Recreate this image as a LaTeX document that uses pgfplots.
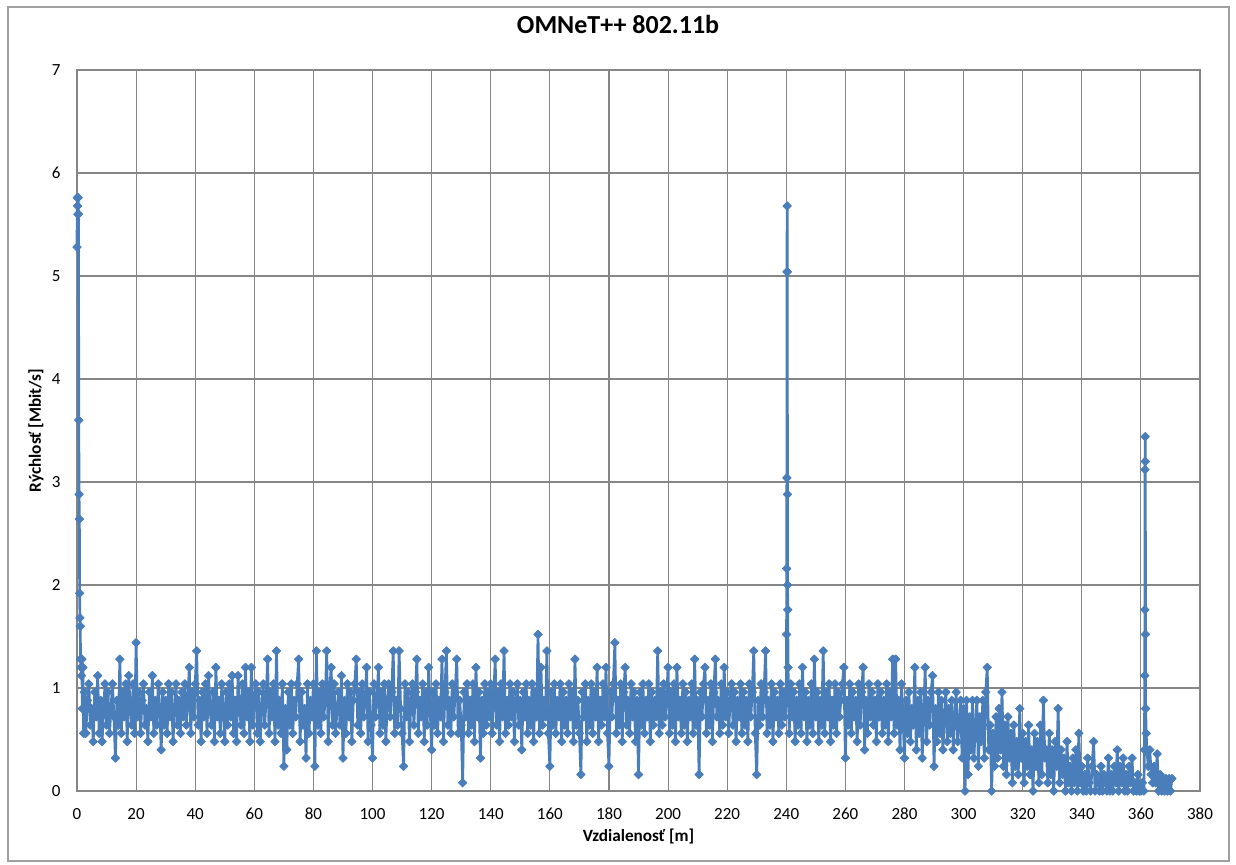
\documentclass[border=0pt]{standalone}
\usepackage{fontspec}
\setmainfont{Carlito}
\usepackage{pgfplots}
\pgfplotsset{compat=1.18}

\definecolor{serie}{RGB}{74,126,187}
\definecolor{mriezka}{RGB}{134,134,134}
\definecolor{ramik}{RGB}{160,160,160}

\begin{document}
\begin{tikzpicture}
\useasboundingbox (-38.5pt,-36.5pt) rectangle (579.5pt,395.5pt);
\begin{axis}[
    scale only axis,
    width=561.5pt,
    height=360.5pt,
    xmin=0, xmax=380,
    ymin=0, ymax=7,
    xtick={0,20,...,380},
    ytick={0,1,...,7},
    major tick length=0pt,
    grid=major,
    grid style={mriezka, line width=0.55pt},
    axis line style={mriezka, line width=0.55pt},
    clip=false,
    /pgf/number format/assume math mode=true,
    ticklabel style={font=\fontsize{8.5}{10}\selectfont, text=black},
    xticklabel style={anchor=base, yshift=-14pt},
    yticklabel style={anchor=east, inner sep=0pt, xshift=-8pt},
    title={OMNeT++ 802.11b},
    title style={at={(axis description cs:0.4818,1.0333)}, anchor=base,
                 font=\bfseries\fontsize{13}{15}\selectfont},
    xlabel={Vzdialenosť [m]},
    xlabel style={at={(axis description cs:0.5,-0.0694)}, anchor=base,
                  font=\bfseries\fontsize{8.6}{10}\selectfont},
    ylabel={Rýchlosť [Mbit/s]},
    ylabel style={at={(axis description cs:-0.0321,0.5)}, anchor=base,
                  font=\bfseries\fontsize{8.6}{10}\selectfont},
]

% OMNeT++ 802.11b, rychlost vs. vzdialenost
\addplot[color=serie, line width=1.35pt, line join=round, mark=square*, mark size=1.5pt,
         mark options={rotate=45, solid, line width=0.4pt, fill=serie, draw=serie}]
coordinates {
(0,5.28)(0.1,5.76)(0.2,5.68)(0.3,5.6)(0.4,5.76)(0.5,5.6)(0.6,3.6)(0.7,2.88)(0.8,2.64)(0.9,1.92)(1.0,1.68)(1.1,1.6)(1.2,1.28)(1.35,1.2)(1.5,1.12)(1.65,1.28)(1.8,0.8)(2.0,1.2)(2.25,0.56)
(2.5,0.96)(3,0.56)(3.5,0.88)(4,1.04)(4.5,0.64)(5,0.8)(5.5,0.48)(6,0.96)(6.5,0.72)(7,1.12)(7.5,0.56)(8,0.88)(8.5,0.48)(9,0.8)(9.5,1.04)
(10,0.64)(10.5,0.96)(11,0.56)(11.5,0.8)(12,1.04)(12.5,0.72)(13,0.32)(13.5,0.88)(14,0.64)(14.5,1.28)(15,0.56)(15.5,0.96)(16,0.72)(16.5,1.04)(17,0.48)(17.5,1.12)(18,0.8)(18.5,0.64)(19,1.04)(19.5,0.56)
(20,1.44)(20.5,0.72)(21,0.96)(21.5,0.56)(22,0.88)(22.5,1.04)(23,0.64)(23.5,0.8)(24,0.48)(24.5,0.96)(25,0.72)(25.5,1.12)(26,0.56)(26.5,0.88)(27,0.64)(27.5,1.04)(28,0.8)(28.5,0.4)(29,0.96)(29.5,0.64)
(30,0.88)(30.5,0.56)(31,1.04)(31.5,0.72)(32,0.96)(32.5,0.48)(33,0.8)(33.5,1.04)(34,0.64)(34.5,0.88)(35,0.56)(35.5,0.96)(36,0.72)(36.5,1.04)(37,0.64)(37.5,0.88)(38,1.2)(38.5,0.56)(39,0.96)(39.5,0.72)
(40,1.04)(40.5,1.36)(41,0.64)(41.5,0.88)(42,0.48)(42.5,0.96)(43,0.72)(43.5,1.04)(44,0.56)(44.5,1.12)(45,0.8)(45.5,0.64)(46,0.96)(46.5,0.48)(47,1.2)(47.5,0.72)(48,0.88)(48.5,0.56)(49,1.04)(49.5,0.8)
(50,0.48)(50.5,0.96)(51,0.64)(51.5,1.04)(52,0.72)(52.5,1.12)(53,0.56)(53.5,0.88)(54,0.48)(54.5,1.12)(55,0.8)(55.5,0.64)(56,1.04)(56.5,0.56)(57,1.2)(57.5,0.72)(58,0.96)(58.5,0.48)(59,1.2)(59.5,0.64)
(60,0.88)(60.5,1.04)(61,0.56)(61.5,0.96)(62,0.48)(62.5,0.8)(63,1.04)(63.5,0.64)(64,0.88)(64.5,1.28)(65,0.56)(65.5,0.96)(66,0.72)(66.5,1.04)(67,0.48)(67.5,1.36)(68,0.64)(68.5,0.88)(69,0.56)(69.5,1.04)
(70,0.24)(70.5,0.8)(71,0.4)(71.5,0.96)(72,0.64)(72.5,1.04)(73,0.56)(73.5,0.88)(74,0.72)(74.5,1.04)(75,1.28)(75.5,0.48)(76,0.96)(76.5,0.64)(77,0.8)(77.5,0.32)(78,1.04)(78.5,0.56)(79,0.88)(79.5,0.72)
(80,1.04)(80.5,0.24)(81,1.36)(81.5,0.64)(82,0.96)(82.5,0.56)(83,1.04)(83.5,0.72)(84,0.88)(84.5,1.36)(85,0.48)(85.5,0.96)(86,1.2)(86.5,0.64)(87,1.04)(87.5,0.56)(88,0.8)(88.5,0.96)(89,0.64)(89.5,1.12)
(90,0.32)(90.5,0.88)(91,0.56)(91.5,1.04)(92,0.72)(92.5,0.96)(93,0.48)(93.5,0.88)(94,1.04)(94.5,1.28)(95,0.64)(95.5,0.96)(96,0.56)(96.5,1.04)(97,0.72)(97.5,0.88)(98,1.2)(98.5,0.48)(99,0.96)(99.5,0.64)
(100,0.32)(100.5,1.04)(101,0.72)(101.5,0.88)(102,1.2)(102.5,0.56)(103,0.96)(103.5,0.64)(104,1.04)(104.5,0.48)(105,0.88)(105.5,1.04)(106,0.72)(106.5,0.96)(107,1.36)(107.5,0.56)(108,0.88)(108.5,0.64)(109,1.36)(109.5,0.8)
(110,0.56)(110.5,0.24)(111,1.04)(111.5,0.72)(112,0.96)(112.5,0.48)(113,0.88)(113.5,1.04)(114,0.64)(114.5,0.96)(115,1.28)(115.5,0.56)(116,0.88)(116.5,0.72)(117,1.04)(117.5,0.48)(118,0.96)(118.5,0.64)(119,1.2)(119.5,0.8)
(120,0.4)(120.5,0.96)(121,0.64)(121.5,1.04)(122,0.56)(122.5,0.88)(123,0.72)(123.5,1.28)(124,0.48)(124.5,0.96)(125,1.36)(125.5,0.64)(126,0.88)(126.5,0.56)(127,1.04)(127.5,0.72)(128,0.96)(128.5,1.28)(129,0.56)(129.5,0.88)
(130,0.64)(130.5,0.08)(131,0.96)(131.5,0.72)(132,1.04)(132.5,0.56)(133,0.88)(133.5,0.64)(134,1.04)(134.5,0.48)(135,1.2)(135.5,0.72)(136,0.96)(136.5,0.32)(137,0.88)(137.5,0.56)(138,1.04)(138.5,0.64)(139,0.96)(139.5,0.72)
(140,1.04)(140.5,0.56)(141,0.88)(141.5,1.28)(142,0.64)(142.5,0.96)(143,0.48)(143.5,1.04)(144,0.72)(144.5,1.36)(145,0.56)(145.5,0.88)(146,0.64)(146.5,1.04)(147,0.72)(147.5,0.96)(148,0.48)(148.5,0.88)(149,1.04)(149.5,0.64)
(150,0.88)(150.5,0.4)(151,0.96)(151.5,0.72)(152,1.04)(152.5,0.56)(153,0.88)(153.5,0.64)(154,1.04)(154.5,0.48)(155,0.96)(155.5,0.72)(156,1.52)(156.5,0.56)(157,1.2)(157.5,0.64)(158,0.88)(158.5,0.72)(159,1.36)(159.5,0.56)
(160,0.24)(160.5,0.96)(161,0.64)(161.5,1.04)(162,0.56)(162.5,0.88)(163,0.72)(163.5,1.04)(164,0.48)(164.5,0.96)(165,0.64)(165.5,0.88)(166,0.56)(166.5,1.04)(167,0.72)(167.5,0.96)(168,0.48)(168.5,1.28)(169,0.64)(169.5,0.88)
(170,0.56)(170.5,0.16)(171,0.96)(171.5,0.72)(172,1.04)(172.5,0.48)(173,0.88)(173.5,0.64)(174,1.04)(174.5,0.56)(175,0.96)(175.5,0.72)(176,1.2)(176.5,0.48)(177,0.88)(177.5,0.64)(178,1.04)(178.5,0.72)(179,1.2)(179.5,0.56)
(180,0.24)(180.5,0.96)(181,0.72)(181.5,1.04)(182,1.44)(182.5,0.56)(183,0.88)(183.5,0.64)(184,1.04)(184.5,0.48)(185,0.96)(185.5,1.2)(186,0.64)(186.5,0.88)(187,0.56)(187.5,1.04)(188,0.72)(188.5,0.96)(189,0.48)(189.5,0.88)
(190,0.16)(190.5,0.96)(191,0.64)(191.5,1.04)(192,0.56)(192.5,0.88)(193,0.72)(193.5,1.04)(194,0.48)(194.5,0.96)(195,0.64)(195.5,0.88)(196,0.72)(196.5,1.36)(197,0.56)(197.5,0.96)(198,0.64)(198.5,1.04)(199,0.72)(199.5,0.88)
(200,1.2)(200.5,0.56)(201,0.96)(201.5,0.64)(202,1.04)(202.5,0.48)(203,1.2)(203.5,0.72)(204,0.88)(204.5,0.56)(205,1.04)(205.5,0.64)(206,0.96)(206.5,0.48)(207,0.88)(207.5,0.72)(208,1.04)(208.5,0.56)(209,1.28)(209.5,0.64)
(210,0.88)(210.5,0.16)(211,0.96)(211.5,0.72)(212,1.04)(212.5,1.2)(213,0.56)(213.5,0.88)(214,0.64)(214.5,1.04)(215,0.48)(215.5,0.96)(216,1.28)(216.5,0.72)(217,0.88)(217.5,0.56)(218,1.04)(218.5,0.64)(219,1.2)(219.5,0.72)
(220,0.96)(220.5,0.56)(221,0.88)(221.5,1.04)(222,0.64)(222.5,0.96)(223,0.48)(223.5,0.88)(224,0.72)(224.5,1.04)(225,0.56)(225.5,0.96)(226,0.64)(226.5,0.88)(227,0.48)(227.5,1.04)(228,0.72)(228.5,0.96)(229,1.36)(229.5,0.56)
(230,0.16)(230.5,0.88)(231,0.64)(231.5,1.04)(232,0.72)(232.5,0.96)(233,1.36)(233.5,0.56)(234,0.88)(234.5,0.64)(235,1.04)(235.5,0.48)(236,0.96)(236.5,0.72)(237,0.88)(237.5,0.56)(238,1.04)(238.5,0.64)(239,0.96)(239.5,0.72)
(240,0.88)(240.1,1.52)(240.15,2.16)(240.2,3.04)(240.25,5.04)(240.3,5.68)(240.35,5.04)(240.4,2.88)(240.45,2.0)(240.5,1.76)(240.6,1.2)(240.75,0.96)
(241,0.56)(241.5,1.04)(242,0.72)(242.5,0.96)(243,0.48)(243.5,0.88)(244,0.64)(244.5,1.04)(245,0.56)(245.5,1.2)(246,0.72)(246.5,0.96)(247,0.48)(247.5,0.88)(248,0.64)(248.5,1.04)(249,0.56)(249.5,1.28)
(250,0.72)(250.5,0.96)(251,0.48)(251.5,0.88)(252,0.64)(252.5,1.36)(253,0.56)(253.5,0.96)(254,0.72)(254.5,1.04)(255,0.48)(255.5,0.88)(256,0.64)(256.5,1.04)(257,0.56)(257.5,0.96)(258,0.72)(258.5,0.88)(259,1.04)(259.5,1.2)
(260,0.32)(260.5,0.88)(261,0.64)(261.5,1.04)(262,0.56)(262.5,0.96)(263,0.72)(263.5,0.88)(264,0.48)(264.5,1.04)(265,0.64)(265.5,0.96)(266,1.2)(266.5,0.4)(267,0.88)(267.5,0.56)(268,1.04)(268.5,0.72)(269,0.96)(269.5,0.64)
(270,0.88)(270.5,0.48)(271,1.04)(271.5,0.72)(272,0.96)(272.5,0.56)(273,0.88)(273.5,0.64)(274,1.04)(274.5,0.48)(275,0.96)(275.5,0.72)(276,1.28)(276.5,0.56)(277,1.28)(277.5,0.64)(278,0.88)(278.5,0.4)(279,1.04)(279.5,0.72)
(280,0.32)(280.5,0.88)(281,0.56)(281.5,0.96)(282,0.48)(282.5,0.8)(283,0.64)(283.5,1.2)(284,0.4)(284.5,0.88)(285,0.56)(285.5,0.96)(286,0.32)(286.5,0.72)(287,1.2)(287.5,0.48)(288,0.88)(288.5,0.64)(289,0.96)(289.5,1.12)
(290,0.24)(290.5,0.8)(291,0.48)(291.5,0.96)(292,0.56)(292.5,0.88)(293,0.4)(293.5,0.72)(294,0.96)(294.5,0.48)(295,0.8)(295.5,0.56)(296,0.88)(296.5,0.4)(297,0.72)(297.5,0.96)(298,0.48)(298.5,0.64)(299,0.88)(299.5,0.32)
(300,0.8)(300.5,0)(301,0.88)(301.5,0.16)(302,0.72)(302.5,0.4)(303,0.88)(303.5,0.32)(304,0.64)(304.5,0.88)(305,0.24)(305.5,0.72)(306,0.48)(306.5,0.88)(307,0.32)(307.5,0.96)(308,1.2)(308.5,0.4)(309,0.64)(309.5,0)
(310,0.56)(310.5,0.24)(311,0.72)(311.5,0.32)(312,0.8)(312.5,0.4)(313,0.96)(313.5,0.24)(314,0.64)(314.5,0.16)(315,0.72)(315.5,0.32)(316,0.56)(316.5,0.08)(317,0.64)(317.5,0.24)(318,0.48)(318.5,0.16)(319,0.8)(319.5,0.32)
(320,0.56)(320.5,0.08)(321,0.48)(321.5,0.24)(322,0.64)(322.5,0.16)(323,0.4)(323.5,0)(324,0.56)(324.5,0.24)(325,0.48)(325.5,0.08)(326,0.64)(326.5,0.16)(327,0.88)(327.5,0.32)(328,0.4)(328.5,0.08)(329,0.56)(329.5,0.16)
(330,0.4)(330.5,0)(331,0.48)(331.5,0.24)(332,0.8)(332.5,0.08)(333,0.4)(333.5,0.16)(334,0.32)(334.5,0)(335,0.48)(335.5,0.08)(336,0.24)(336.5,0)(337,0.32)(337.5,0.08)(338,0.4)(338.5,0)(339,0.56)(339.5,0.08)
(340,0.24)(340.5,0)(341,0.16)(341.5,0)(342,0.32)(342.5,0.08)(343,0)(343.5,0.24)(344,0.48)(344.5,0)(345,0.16)(345.5,0.08)(346,0)(346.5,0.24)(347,0)(347.5,0.16)(348,0.08)(348.5,0)(349,0.32)(349.5,0)
(350,0.16)(350.5,0)(351,0.24)(351.5,0.08)(352,0.4)(352.5,0)(353,0.24)(353.5,0.08)(354,0.32)(354.5,0)(355,0.16)(355.5,0)(356,0.24)(356.5,0.08)(357,0.32)(357.5,0)(358,0.08)(358.5,0)(359,0.16)(359.5,0)
(360,0)(360.5,0.08)(361,0)(361.2,0.4)(361.3,1.12)(361.35,1.76)(361.4,3.12)(361.45,3.44)(361.5,3.2)(361.55,1.52)(361.6,0.8)(361.8,0.56)(362,0.4)(362.5,0.24)(363,0.4)(363.5,0.16)(364,0.08)(364.5,0.24)(365,0.08)(365.5,0.36)
(366,0)(366.5,0.16)(367,0)(367.5,0.12)(368,0)(368.5,0.12)(369,0)(369.5,0.12)(370,0)(370.5,0.12)
};
\end{axis}
\draw[ramik, line width=0.75pt] (-34.5pt,-35pt) rectangle (576pt,392pt);
\end{tikzpicture}
\end{document}
